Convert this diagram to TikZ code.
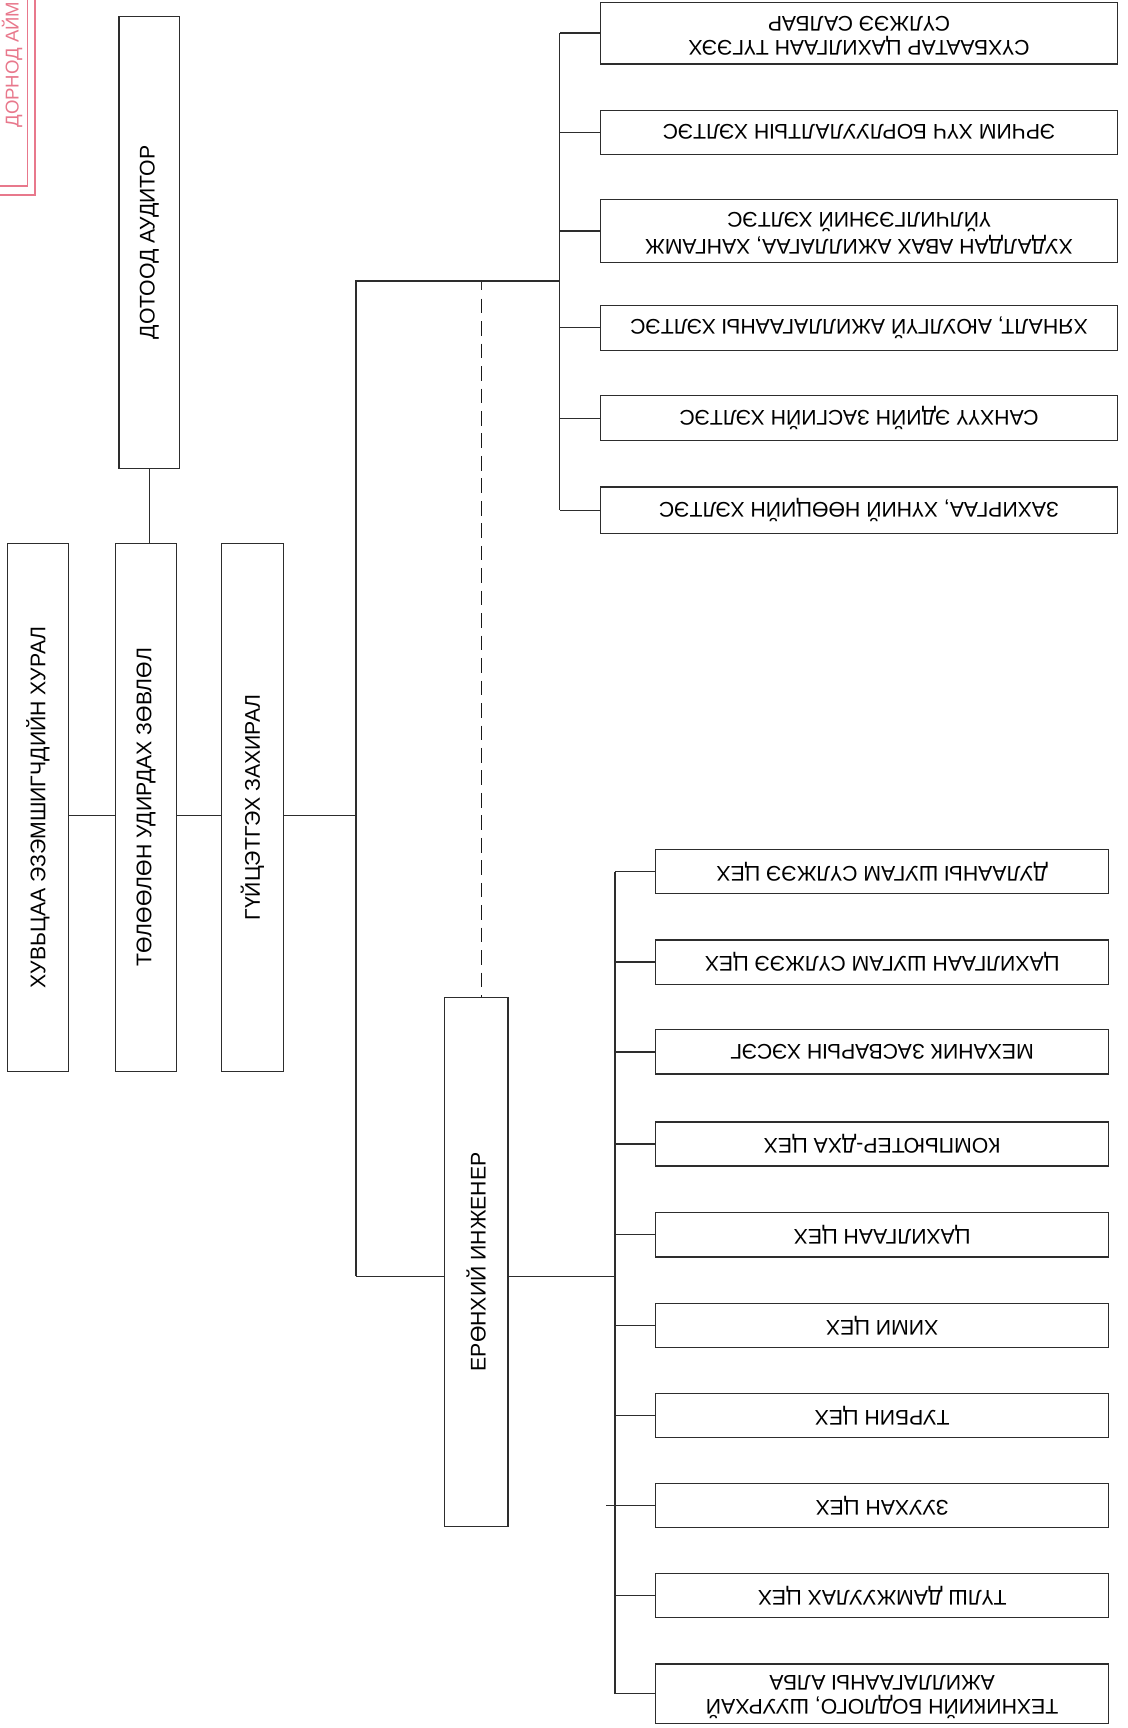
\documentclass[tikz,border=0pt]{standalone}
\usepackage{fontspec}
\setmainfont{Liberation Sans}
\definecolor{stampc}{RGB}{232,120,140}
\definecolor{inkc}{RGB}{45,45,45}
\begin{document}
\begin{tikzpicture}[x=0.25mm,y=-0.25mm,
  box/.style={draw=inkc, line width=0.8pt, inner sep=0pt, align=center,
    font=\fontsize{13.7}{15.5}\selectfont, text=black},
  ln/.style={draw=inkc, line width=0.8pt},
  dashln/.style={draw=black!90, line width=1.1pt, dash pattern=on 9.5pt off 5pt},
  stampln/.style={draw=stampc, line width=1.1pt}]
\useasboundingbox (0,0) rectangle (1023,1568);

% stamp fragment
\draw[stampln] (25,0) -- (25,169) -- (0,169);
\draw[stampln] (32,0) -- (32,177) -- (0,177);
\node[rotate=90, anchor=west, text=stampc, inner sep=0pt,
  font=\fontsize{12}{14}\selectfont] (stamp) at (11,116) {ДОРНОД АЙМ};

% left column boxes
\node[box, minimum width=13.75mm, minimum height=102.5mm] (aud) at (135.5,220) {\rotatebox{90}{ДОТООД АУДИТОР}};
\node[box, minimum width=13.75mm, minimum height=119.75mm] (hur) at (34.5,732.5) {\rotatebox{90}{ХУВЬЦАА ЭЗЭМШИГЧДИЙН ХУРАЛ}};
\node[box, minimum width=13.75mm, minimum height=119.75mm] (tol) at (132.5,732.5) {\rotatebox{90}{ТӨЛӨӨЛӨН УДИРДАХ ЗӨВЛӨЛ}};
\node[box, minimum width=14mm, minimum height=119.75mm] (gui) at (229,732.5) {\rotatebox{90}{ГҮЙЦЭТГЭХ ЗАХИРАЛ}};
\node[box, minimum width=14.5mm, minimum height=120mm] (eng) at (432,1145) {\rotatebox{90}{ЕРӨНХИЙ ИНЖЕНЕР}};

% top right group
\node[box, minimum width=117.25mm, minimum height=14mm] (t1) at (779.5,30) {\rotatebox{180}{\begin{tabular}{@{}c@{}}СҮХБААТАР ЦАХИЛГААН ТҮГЭЭХ\\[0pt]СҮЛЖЭЭ САЛБАР\end{tabular}}};
\node[box, minimum width=117.25mm, minimum height=10mm] (t2) at (779.5,120) {\rotatebox{180}{ЭРЧИМ ХҮЧ БОРЛУУЛАЛТЫН ХЭЛТЭС}};
\node[box, minimum width=117.25mm, minimum height=14.25mm] (t3) at (779.5,209.5) {\rotatebox{180}{\begin{tabular}{@{}c@{}}ХУДАЛДАН АВАХ АЖИЛЛАГАА, ХАНГАМЖ\\[0pt]ҮЙЛЧИЛГЭЭНИЙ ХЭЛТЭС\end{tabular}}};
\node[box, minimum width=117.25mm, minimum height=10.25mm] (t4) at (779.5,297.5) {\rotatebox{180}{ХЯНАЛТ, АЮУЛГҮЙ АЖИЛЛАГААНЫ ХЭЛТЭС}};
\node[box, minimum width=117.25mm, minimum height=10.25mm] (t5) at (779.5,379.5) {\rotatebox{180}{САНХҮҮ ЭДИЙН ЗАСГИЙН ХЭЛТЭС}};
\node[box, minimum width=117.25mm, minimum height=10.5mm] (t6) at (779.5,463) {\rotatebox{180}{ЗАХИРГАА, ХҮНИЙ НӨӨЦИЙН ХЭЛТЭС}};

% bottom right group
\node[box, minimum width=102.75mm, minimum height=10mm] (b1) at (800.5,791) {\rotatebox{180}{ДУЛААНЫ ШУГАМ СҮЛЖЭЭ ЦЕХ}};
\node[box, minimum width=102.75mm, minimum height=10mm] (b2) at (800.5,873) {\rotatebox{180}{ЦАХИЛГААН ШУГАМ СҮЛЖЭЭ ЦЕХ}};
\node[box, minimum width=102.75mm, minimum height=10mm] (b3) at (800.5,954.5) {\rotatebox{180}{МЕХАНИК ЗАСВАРЫН ХЭСЭГ}};
\node[box, minimum width=102.75mm, minimum height=10mm] (b4) at (800.5,1038) {\rotatebox{180}{КОМПЬЮТЕР-ДХА ЦЕХ}};
\node[box, minimum width=102.75mm, minimum height=10mm] (b5) at (800.5,1120.5) {\rotatebox{180}{ЦАХИЛГААН ЦЕХ}};
\node[box, minimum width=102.75mm, minimum height=10mm] (b6) at (800.5,1203) {\rotatebox{180}{ХИМИ ЦЕХ}};
\node[box, minimum width=102.75mm, minimum height=10mm] (b7) at (800.5,1284.5) {\rotatebox{180}{ТУРБИН ЦЕХ}};
\node[box, minimum width=102.75mm, minimum height=10mm] (b8) at (800.5,1366) {\rotatebox{180}{ЗУУХАН ЦЕХ}};
\node[box, minimum width=102.75mm, minimum height=10mm] (b9) at (800.5,1448) {\rotatebox{180}{ТҮЛШ ДАМЖУУЛАХ ЦЕХ}};
\node[box, minimum width=102.75mm, minimum height=13.5mm] (b10) at (800.5,1537) {\rotatebox{180}{\begin{tabular}{@{}c@{}}ТЕХНИКИЙН БОДЛОГО, ШУУРХАЙ\\[0pt]АЖИЛЛАГААНЫ АЛБА\end{tabular}}};

% helper coordinates
\coordinate (jL) at (0,740);
\coordinate (tkTop) at (323,255);
\coordinate (tkBot) at (323,1158);
\coordinate (spT) at (508,0);
\coordinate (spB) at (558,0);
\coordinate (dTop) at (437,255);
\coordinate (dStart) at (437,263);

% connectors left
\draw[ln] (aud.south) -- (aud.south |- tol.north);
\draw[ln] (hur.east |- jL) -- (tol.west |- jL);
\draw[ln] (tol.east |- jL) -- (gui.west |- jL);
\draw[ln] (gui.east |- jL) -- (tkTop |- jL);
\draw[ln] (tkBot) -- (tkTop) -- (tkTop -| spT);

% top spine
\draw[ln] (t1.west -| spT) -- (t6.west -| spT);
\foreach \n in {t1,t2,t3,t4,t5,t6} { \draw[ln] (\n.west -| spT) -- (\n.west); }

% dashed link to chief engineer
\draw[ln] (dTop) -- (dStart);
\draw[dashln] ([yshift=-2mm]dStart) -- (dTop |- eng.north);

% chief engineer connections
\draw[ln] (tkBot) -- (eng.west |- tkBot);
\draw[ln] (eng.east |- tkBot) -- (tkBot -| spB);

% bottom spine
\draw[ln] (b1.west -| spB) -- (b10.west -| spB);
\foreach \n in {b1,b2,b3,b4,b5,b6,b7,b8,b9,b10} { \draw[ln] (\n.west -| spB) -- (\n.west); }
\draw[ln] (b8.west -| spB) -- ++(-8,0);
\end{tikzpicture}
\end{document}
